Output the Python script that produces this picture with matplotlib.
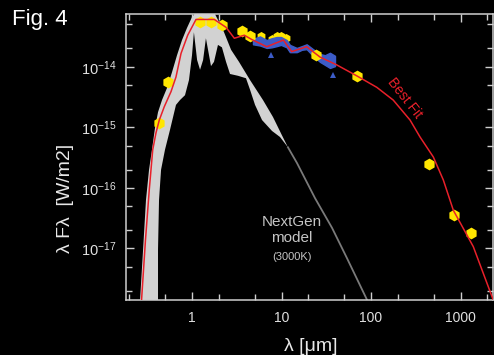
import numpy as np
import matplotlib
matplotlib.use("Agg")
import matplotlib.pyplot as plt
from matplotlib.ticker import FixedLocator, FixedFormatter, LogLocator, NullFormatter

plt.rcParams["font.family"] = ["Liberation Sans", "DejaVu Sans"]

# photometry points (wavelength in um, log10 of lambda*F_lambda in W/m2)
phot_wl = [0.431, 0.543, 1.23, 1.64, 2.15, 3.59, 4.48, 24.3, 70.3, 448, 839, 1300]
phot_logf = [-14.93, -14.26, -13.27, -13.26, -13.31, -13.41, -13.49, -13.80, -14.15, -15.61, -16.44, -16.75]

# small photometry points partly hidden by the IRS spectrum
small_wl = [5.85, 7.9, 8.84, 9.9, 11.1]
small_logf = [-13.50, -13.54, -13.50, -13.49, -13.52]

# IRS spectrum band
irs_wl = [4.8, 5.75, 6.83, 7.77, 8.84, 9.87, 11.43, 12.4, 14.8, 16.9, 19.1, 22.5, 26.9, 30.6, 34.8, 39.6]
irs_hi = [-13.54, -13.50, -13.56, -13.53, -13.51, -13.51, -13.56, -13.64, -13.69, -13.66, -13.63, -13.71, -13.79, -13.81, -13.77, -13.82]
irs_lo = [-13.63, -13.65, -13.69, -13.68, -13.66, -13.64, -13.68, -13.76, -13.76, -13.72, -13.71, -13.82, -13.92, -13.97, -14.02, -13.99]
irs_tri_wl = [7.57, 37.2]
irs_tri_logf = [-13.80, -14.14]

# NextGen model outline (upper edge out, lower edge back)
model_wl = [0.262, 0.284, 0.306, 0.331, 0.357, 0.386, 0.417, 0.462, 0.526, 0.598, 0.680, 0.773,
            0.879, 1.0, 1.108, 1.762, 1.953, 2.278, 2.73, 3.35, 4.45, 6.21, 8.03, 10.1, 11.8,
            9.62, 7.83, 6.06, 5.06, 4.45, 4.01, 3.27, 2.66, 2.40, 2.16, 1.95, 1.76, 1.63, 1.51,
            1.43, 1.33, 1.23, 1.14, 1.05, 1.0, 0.925, 0.835, 0.734, 0.662, 0.568, 0.499, 0.451,
            0.428, 0.417, 0.417]
model_logf = [-17.88, -17.02, -16.20, -15.70, -15.37, -15.01, -14.75, -14.55, -14.35, -14.09, -13.81, -13.56,
              -13.36, -13.18, -13.10, -13.10, -13.23, -13.43, -13.72, -13.92, -14.22, -14.55, -14.83, -15.13, -15.33,
              -15.16, -15.06, -14.88, -14.63, -14.38, -14.19, -14.15, -14.12, -13.92, -13.68, -13.64, -13.92, -13.99, -13.72,
              -13.53, -13.89, -14.05, -13.89, -13.43, -13.81, -14.22, -14.47, -14.55, -14.63, -15.04, -15.37, -15.70,
              -16.20, -17.02, -17.88]
tail_wl = [11.8, 14.9, 23.7, 36.7, 53.9, 92.5]
tail_logf = [-15.33, -15.59, -16.17, -16.66, -17.16, -17.88]

# best fit curve
fit_wl = [0.273, 0.302, 0.333, 0.364, 0.396, 0.431, 0.490, 0.583, 0.662, 0.754, 0.895, 1.108, 1.774,
          2.40, 2.97, 3.84, 4.64, 6.83, 10.5, 13.0, 19.1, 26.9, 41.4, 69.2, 116, 177, 273, 353,
          497, 643, 832, 1390, 2323]
fit_logf = [-17.85, -16.86, -16.03, -15.37, -15.09, -14.88, -14.66, -14.41, -14.17, -13.78, -13.48, -13.22, -13.22,
            -13.35, -13.53, -13.48, -13.55, -13.67, -13.56, -13.75, -13.67, -13.84, -13.97, -14.15, -14.34, -14.55, -14.88, -15.16,
            -15.49, -15.87, -16.37, -16.97, -17.85]

x_ticks = [1, 10, 100, 1000]
x_labels = ["1", "10", "100", "1000"]
y_ticks = [1e-17, 1e-16, 1e-15, 1e-14]
y_labels = [r"$\mathregular{10^{-17}}$", r"$\mathregular{10^{-16}}$",
            r"$\mathregular{10^{-15}}$", r"$\mathregular{10^{-14}}$"]

def flux(lf):
    return 10.0 ** np.array(lf)

fig = plt.figure(figsize=(4.94, 3.55), dpi=100, facecolor="black")
ax = fig.add_axes([126 / 494, 55 / 355, 367 / 494, 286 / 355])
ax.set_facecolor("black")
ax.set_xscale("log")
ax.set_yscale("log")
ax.set_xlim(0.183, 2307)
ax.set_ylim(10 ** -17.85, 10 ** -13.13)

ax.fill(model_wl, flux(model_logf), color="#d2d2d2", lw=0, zorder=1)
ax.plot(tail_wl, flux(tail_logf), color="#7a7a7a", lw=1.3, zorder=1)

ax.plot(small_wl, flux(small_logf), "h", color="#ffe600", ms=6.5, mew=0, zorder=2)
ax.fill_between(irs_wl, flux(irs_lo), flux(irs_hi), color="#3c5cc8", lw=1.0, ec="#3c5cc8", zorder=3)
ax.plot(irs_tri_wl, flux(irs_tri_logf), "^", color="#3c5cc8", ms=4, mew=0, zorder=3)
ax.plot(phot_wl, flux(phot_logf), "h", color="#ffe600", ms=8.5, mew=0, zorder=4)
ax.plot(fit_wl, flux(fit_logf), color="#e8202a", lw=1.1, zorder=5)

ax.text(240, 10 ** -14.52, "Best Fit", color="#e8202a", fontsize=10, rotation=-52,
        ha="center", va="center", zorder=6)
ax.text(13.1, 10 ** -16.70, "NextGen\nmodel", color="#c4c4c4", fontsize=11, ha="center",
        va="center", linespacing=1.15)
ax.text(13.1, 10 ** -17.14, "(3000K)", color="#c4c4c4", fontsize=8, ha="center", va="center")

ax.xaxis.set_major_locator(FixedLocator(x_ticks))
ax.xaxis.set_major_formatter(FixedFormatter(x_labels))
ax.xaxis.set_minor_locator(LogLocator(base=10, subs=(2, 5)))
ax.xaxis.set_minor_formatter(NullFormatter())
ax.yaxis.set_major_locator(FixedLocator(y_ticks))
ax.yaxis.set_major_formatter(FixedFormatter(y_labels))
ax.yaxis.set_minor_locator(LogLocator(base=10, subs=(2, 5)))
ax.yaxis.set_minor_formatter(NullFormatter())

axcol = "#cfcfcf"
for s in ax.spines.values():
    s.set_color(axcol)
    s.set_linewidth(1.1)
ax.tick_params(which="both", direction="in", top=True, right=True, color=axcol, width=1.0)
ax.tick_params(which="major", length=6)
ax.tick_params(which="minor", length=4)
ax.tick_params(axis="x", which="major", labelsize=10, labelcolor="#e0e0e0", pad=8)
ax.tick_params(axis="y", which="major", labelsize=10.5, labelcolor="#e0e0e0", pad=7)

fig.text(12 / 494, 1 - 9 / 355, "Fig. 4", color="white", fontsize=16, ha="left", va="top")
fig.text(74 / 494, 157 / 355, "λ Fλ  [W/m2]", color="#e8e8e8", fontsize=14,
         rotation=90, ha="right", va="center")
fig.text(311 / 494, 4 / 355, "λ [μm]", color="#e8e8e8", fontsize=14, ha="center", va="baseline")

fig.savefig("out.png", dpi=100, facecolor="black")
